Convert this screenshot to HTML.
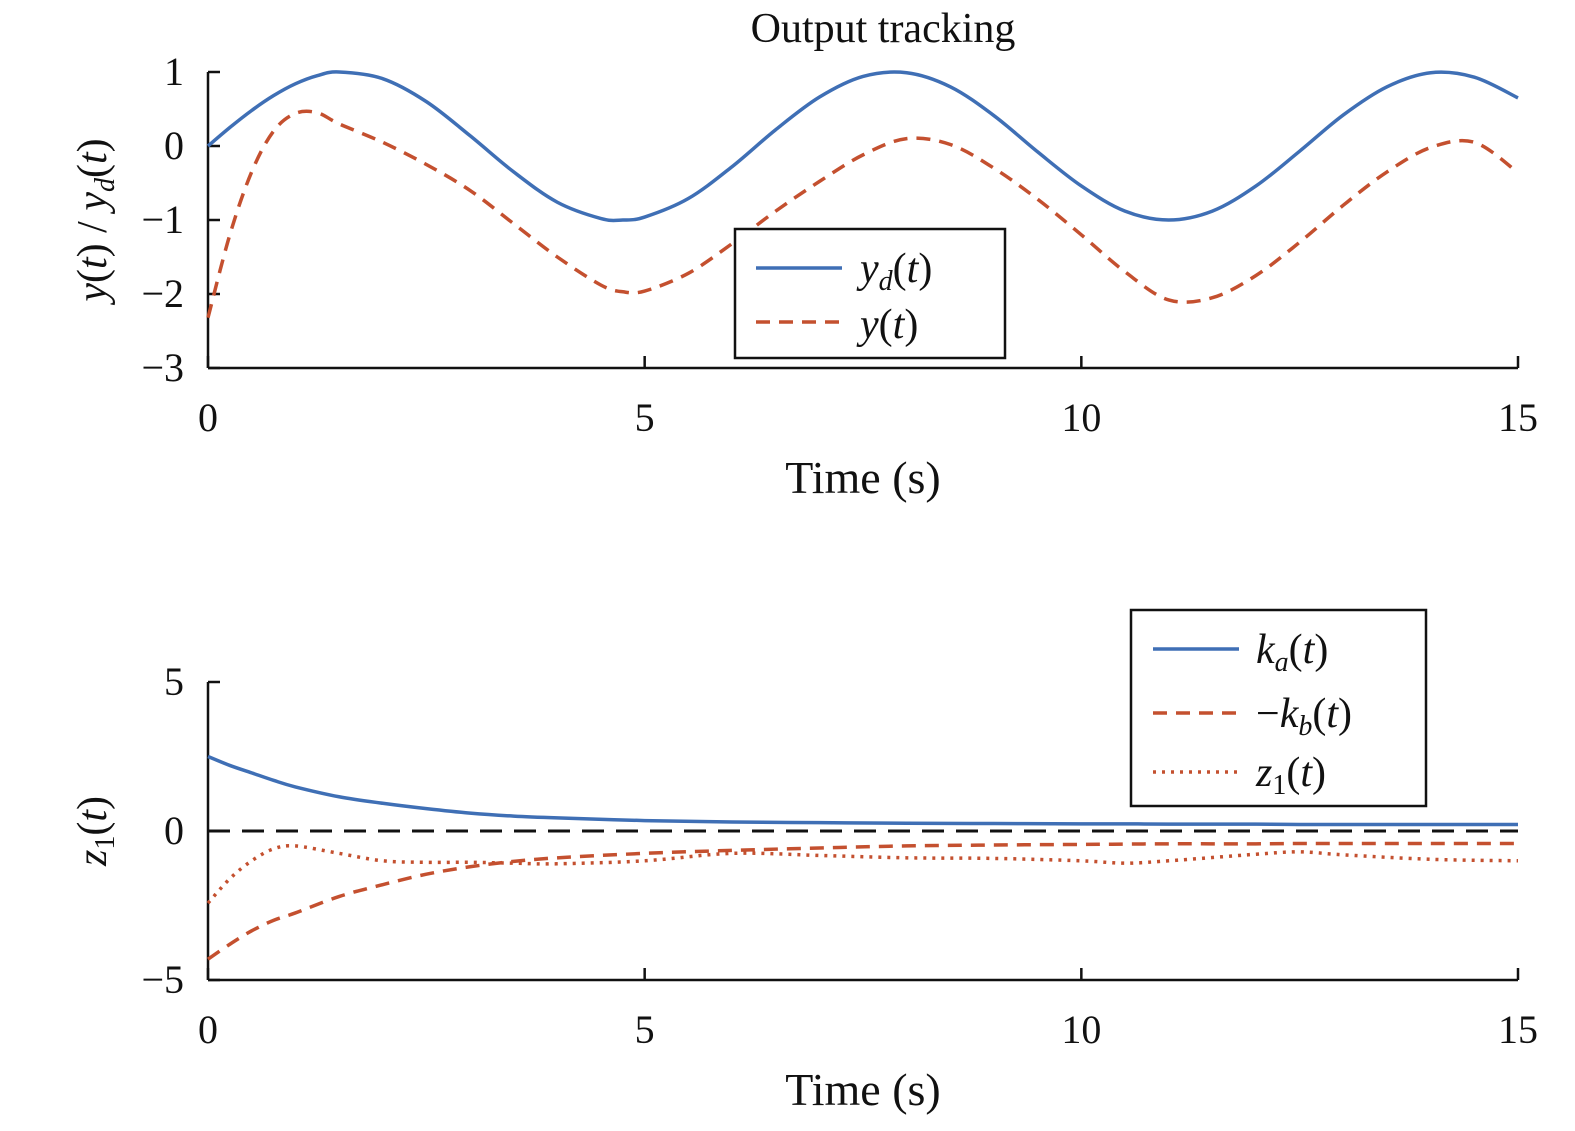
<!DOCTYPE html>
<html><head><meta charset="utf-8"><style>
body{margin:0;background:#fff}
svg text{font-family:"Liberation Serif",serif;fill:#111}
</style></head><body>
<svg id="chart" width="1575" height="1126" xmlns="http://www.w3.org/2000/svg"></svg>
<script>
const tTop=[0,0.25,0.5,0.75,1,1.25,1.5,2,2.5,3,3.5,4,4.5,4.75,5,5.5,6,6.5,7,7.5,8,8.5,9,9.5,10,10.5,11,11.5,12,12.5,13,13.5,14,14.5,15];
const ydVals=[0,0.25,0.48,0.68,0.84,0.95,1,0.91,0.6,0.14,-0.35,-0.76,-0.98,-1,-0.96,-0.71,-0.28,0.22,0.66,0.94,0.99,0.8,0.41,-0.08,-0.54,-0.88,-1,-0.88,-0.54,-0.07,0.42,0.8,0.99,0.93,0.65];
const yVals=[-2.32,-1.2,-0.35,0.2,0.44,0.45,0.3,0.05,-0.25,-0.6,-1.05,-1.5,-1.88,-1.97,-1.96,-1.72,-1.32,-0.88,-0.48,-0.12,0.1,0.02,-0.3,-0.72,-1.2,-1.7,-2.08,-2.05,-1.75,-1.3,-0.8,-0.35,-0.02,0.05,-0.36];
const tBot=[0,0.25,0.5,0.75,1,1.5,2,2.5,3,3.5,4,5,6,7,8,9,10,10.5,11,12,12.5,13,14,15];
const kaVals=[2.5,2.2,1.95,1.7,1.48,1.15,0.93,0.75,0.6,0.5,0.44,0.35,0.3,0.28,0.26,0.25,0.24,0.24,0.23,0.23,0.22,0.22,0.22,0.22];
const kbVals=[-4.3,-3.8,-3.35,-3.0,-2.75,-2.2,-1.8,-1.45,-1.2,-1.02,-0.9,-0.75,-0.65,-0.57,-0.5,-0.47,-0.45,-0.44,-0.43,-0.43,-0.42,-0.42,-0.42,-0.42];
const z1Vals=[-2.42,-1.6,-1.0,-0.6,-0.5,-0.75,-1.0,-1.05,-1.05,-1.08,-1.1,-1.0,-0.75,-0.82,-0.9,-0.92,-1.0,-1.08,-1.0,-0.78,-0.7,-0.8,-0.95,-1.0];
const topYTicks=[1,0,-1,-2,-3];
const botYTicks=[5,0,-5];
const xTicks=[0,5,10,15];

const svg=document.getElementById('chart');
const NS='http://www.w3.org/2000/svg';
function mk(tag,attrs,parent){const e=document.createElementNS(NS,tag);for(const k in attrs)e.setAttribute(k,attrs[k]);(parent||svg).appendChild(e);return e;}
const X0=208,X1=1518;
const xs=t=>X0+(X1-X0)*t/15;
const yTop=v=>146-74*v;
const yBot=v=>831-29.8*v;
function path(ts,vs,ys){
  const p=ts.map((t,i)=>[xs(t),ys(vs[i])]);
  let d='M'+p[0][0]+','+p[0][1];
  for(let i=0;i<p.length-1;i++){
    const p0=p[Math.max(0,i-1)],p1=p[i],p2=p[i+1],p3=p[Math.min(p.length-1,i+2)];
    const c1=[p1[0]+(p2[0]-p0[0])/6,p1[1]+(p2[1]-p0[1])/6];
    const c2=[p2[0]-(p3[0]-p1[0])/6,p2[1]-(p3[1]-p1[1])/6];
    d+=` C${c1[0]},${c1[1]} ${c2[0]},${c2[1]} ${p2[0]},${p2[1]}`;
  }
  return d;
}
function axes(ys,ticks,yTopV,yBotV,name){
  const g=mk('g',{});
  
  
  mk('line',{x1:X0,y1:ys(yTopV),x2:X0,y2:ys(yBotV),stroke:'#111','stroke-width':2.5},g);
  mk('line',{x1:X0,y1:ys(yBotV),x2:X1,y2:ys(yBotV),stroke:'#111','stroke-width':2.5},g);
  ticks.forEach(v=>{
    mk('line',{x1:X0,y1:ys(v),x2:X0+12,y2:ys(v),stroke:'#111','stroke-width':2.5},g);
    const t=mk('text',{x:184,y:ys(v)+13,'text-anchor':'end','font-size':40},g);
    t.textContent=v<0?'\u2212'+(-v):String(v);
    
    
  });
  xTicks.forEach(v=>{
    mk('line',{x1:xs(v),y1:ys(yBotV),x2:xs(v),y2:ys(yBotV)-12,stroke:'#111','stroke-width':2.5},g);
    const t=mk('text',{x:xs(v),y:ys(yBotV)+63,'text-anchor':'middle','font-size':40},g);
    t.textContent=String(v);
    
    
  });
}
axes(yTop,topYTicks,1,-3,'top');
axes(yBot,botYTicks,5,-5,'bottom');

let e;
e=mk('line',{x1:X0,y1:yBot(0),x2:X1,y2:yBot(0),stroke:'#111','stroke-width':3,'stroke-dasharray':'22,12'});



const BLUE='#3f6fb5',RED='#c4502f';
e=mk('path',{d:path(tTop,ydVals,yTop),fill:'none',stroke:BLUE,'stroke-width':3.5});


e=mk('path',{d:path(tTop,yVals,yTop),fill:'none',stroke:RED,'stroke-width':3.5,'stroke-dasharray':'14,9'});


e=mk('path',{d:path(tBot,kaVals,yBot),fill:'none',stroke:BLUE,'stroke-width':3.5});


e=mk('path',{d:path(tBot,kbVals,yBot),fill:'none',stroke:RED,'stroke-width':3.5,'stroke-dasharray':'14,9'});


e=mk('path',{d:path(tBot,z1Vals,yBot),fill:'none',stroke:RED,'stroke-width':3.5,'stroke-dasharray':'3,6'});


</script>
<svg width="1575" height="1126" style="position:absolute;left:0;top:0" xmlns="http://www.w3.org/2000/svg">
<text x="883" y="42" text-anchor="middle" font-size="42">Output tracking</text>
<text x="863" y="493" text-anchor="middle" font-size="46">Time (s)</text>
<text x="863" y="1105" text-anchor="middle" font-size="46">Time (s)</text>
<text transform="translate(106,220) rotate(-90)" text-anchor="middle" font-size="42"><tspan font-style="italic">y</tspan>(<tspan font-style="italic">t</tspan>) / <tspan font-style="italic">y</tspan><tspan font-style="italic" font-size="28" dy="8">d</tspan><tspan dy="-8">(</tspan><tspan font-style="italic">t</tspan>)</text>
<text transform="translate(106,831) rotate(-90)" text-anchor="middle" font-size="42"><tspan font-style="italic">z</tspan><tspan font-size="28" dy="8">1</tspan><tspan dy="-8">(</tspan><tspan font-style="italic">t</tspan>)</text>
<g>
<rect x="735" y="229" width="270" height="129" fill="#fff" stroke="#111" stroke-width="2.5"/>
<line x1="756" y1="268" x2="842" y2="268" stroke="#3f6fb5" stroke-width="3.5"/>
<text x="860" y="282" font-size="42"><tspan font-style="italic">y</tspan><tspan font-style="italic" font-size="28" dy="8">d</tspan><tspan dy="-8">(</tspan><tspan font-style="italic">t</tspan>)</text>
<line x1="756" y1="322" x2="842" y2="322" stroke="#c4502f" stroke-width="3.5" stroke-dasharray="14,9"/>
<text x="860" y="338" font-size="42"><tspan font-style="italic">y</tspan>(<tspan font-style="italic">t</tspan>)</text>
</g>
<g>
<rect x="1131" y="610" width="295" height="196" fill="#fff" stroke="#111" stroke-width="2.5"/>
<line x1="1153" y1="649" x2="1239" y2="649" stroke="#3f6fb5" stroke-width="3.5"/>
<text x="1256" y="663" font-size="42"><tspan font-style="italic">k</tspan><tspan font-style="italic" font-size="28" dy="8">a</tspan><tspan dy="-8">(</tspan><tspan font-style="italic">t</tspan>)</text>
<line x1="1153" y1="713" x2="1239" y2="713" stroke="#c4502f" stroke-width="3.5" stroke-dasharray="14,9"/>
<text x="1256" y="727" font-size="42">−<tspan font-style="italic">k</tspan><tspan font-style="italic" font-size="28" dy="8">b</tspan><tspan dy="-8">(</tspan><tspan font-style="italic">t</tspan>)</text>
<line x1="1153" y1="772" x2="1239" y2="772" stroke="#c4502f" stroke-width="3.5" stroke-dasharray="3,6"/>
<text x="1256" y="786" font-size="42"><tspan font-style="italic">z</tspan><tspan font-size="28" dy="8">1</tspan><tspan dy="-8">(</tspan><tspan font-style="italic">t</tspan>)</text>
</g>
</svg>
</body></html>
